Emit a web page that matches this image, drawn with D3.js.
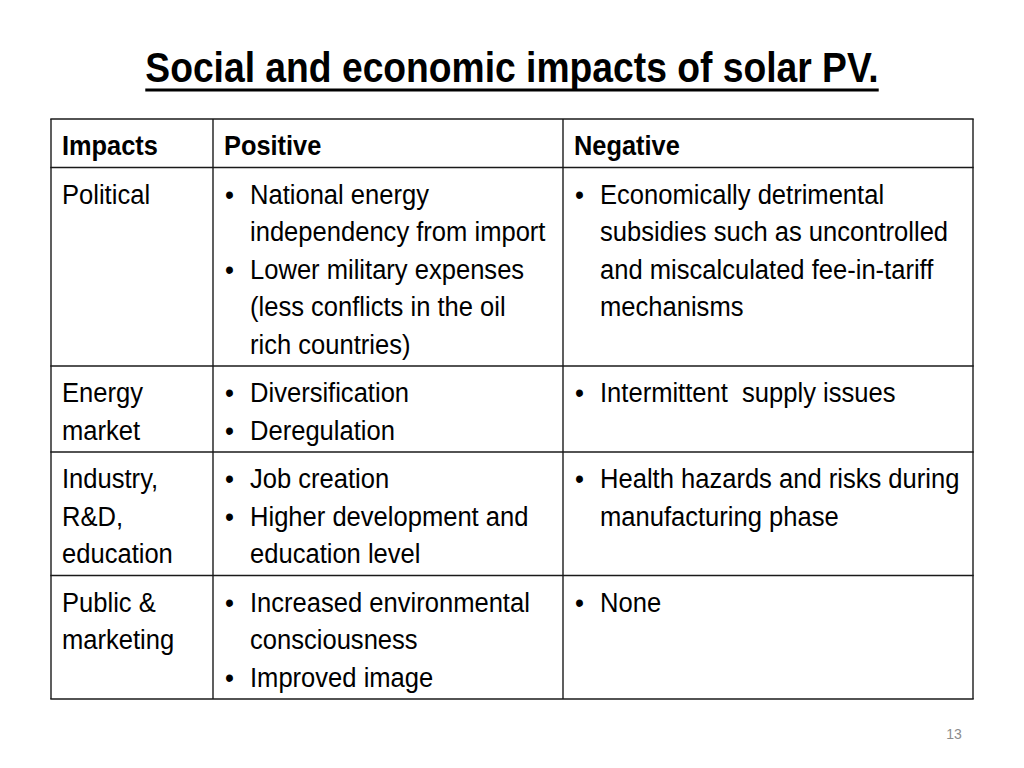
<!DOCTYPE html>
<html><head><meta charset="utf-8">
<script src="https://cdn.jsdelivr.net/npm/d3@7"></script>
<style>
html,body{margin:0;padding:0;background:#fff;}
svg text{font-family:"Liberation Sans Narrow","Arial Narrow","Liberation Sans",Arial,sans-serif;}
</style></head>
<body><svg id="c" width="1024" height="768"></svg>
<script>
const title = "Social and economic impacts of solar PV.";
const headers = ["Impacts", "Positive", "Negative"];
const categories = [
  ["Political"],
  ["Energy", "market"],
  ["Industry,", "R&D,", "education"],
  ["Public &", "marketing"]
];
const positives = [
  [["National energy", "independency from import"], ["Lower military expenses", "(less conflicts in the oil", "rich countries)"]],
  [["Diversification"], ["Deregulation"]],
  [["Job creation"], ["Higher development and", "education level"]],
  [["Increased environmental", "consciousness"], ["Improved image"]]
];
const negatives = [
  [["Economically detrimental", "subsidies such as uncontrolled", "and miscalculated fee-in-tariff", "mechanisms"]],
  [["Intermittent  supply issues"]],
  [["Health hazards and risks during", "manufacturing phase"]],
  [["None"]]
];
const pageNumber = "13";

const svg = d3.select("#c");
const W = 1024;
const kBody = 0.947, kHead = 0.94, kTitle = 0.887;

function txt(parent, x, y, k, s) {
  return parent.append("text")
    .attr("transform", `translate(${x},${y}) scale(${k},1)`)
    .attr("xml:space", "preserve").style("white-space", "pre")
    .attr("fill", "#000").text(s);
}

// title
const t = txt(svg, W/2, 82, kTitle, title)
  .attr("text-anchor", "middle").attr("font-size", 42).attr("font-weight", "bold");
const tb = t.node().getBBox();
const tw = tb.width * kTitle;
svg.append("line").attr("x1", W/2 - tw/2).attr("x2", W/2 + tw/2)
  .attr("y1", 90).attr("y2", 90).attr("stroke", "#000").attr("stroke-width", 3);

// row line counts
const rowLines = [1].concat(categories.map((c, i) => {
  const p = d3.sum(positives[i], b => b.length);
  const n = d3.sum(negatives[i], b => b.length);
  return Math.max(c.length, p, n);
}));
const lineH = 37.5, rowPad = 11;
const rowH = rowLines.map(n => n * lineH + rowPad);
const tableTop = 119;
const rowTops = [tableTop];
rowH.forEach((h, i) => rowTops.push(rowTops[i] + h));

const x = d3.scaleOrdinal().domain([0, 1, 2, 3]).range([51, 213, 563, 973]);
const fs = 27;
const g = svg.append("g");

// borders
const stroke = "#1a1a1a", sw = 1.4;
rowTops.forEach(y => g.append("line").attr("x1", x(0) - 0.7).attr("x2", x(3) + 0.7).attr("y1", y).attr("y2", y).attr("stroke", stroke).attr("stroke-width", sw));
[0,1,2,3].forEach(c => g.append("line").attr("x1", x(c)).attr("x2", x(c)).attr("y1", rowTops[0]).attr("y2", rowTops[rowTops.length-1]).attr("stroke", stroke).attr("stroke-width", sw));

const firstBase = 36;
// header
headers.forEach((h, c) => txt(g, x(c) + 11, rowTops[0] + firstBase, kHead, h)
  .attr("font-size", fs).attr("font-weight", "bold"));

function bullets(items, col, r) {
  let li = 0;
  items.forEach(b => {
    txt(g, x(col) + 12, rowTops[r] + firstBase + li * lineH, kBody, "\u2022").attr("font-size", fs);
    b.forEach(line => {
      txt(g, x(col) + 37, rowTops[r] + firstBase + li * lineH, kBody, line).attr("font-size", fs);
      li++;
    });
  });
}

categories.forEach((cat, i) => {
  const r = i + 1;
  cat.forEach((line, li) => txt(g, x(0) + 11, rowTops[r] + firstBase + li * lineH, kBody, line).attr("font-size", fs));
  bullets(positives[i], 1, r);
  bullets(negatives[i], 2, r);
});

svg.append("text").attr("x", 954).attr("y", 739).attr("text-anchor", "middle")
  .attr("font-size", 14).attr("fill", "#8c8c8c").text(pageNumber);
</script></body></html>
